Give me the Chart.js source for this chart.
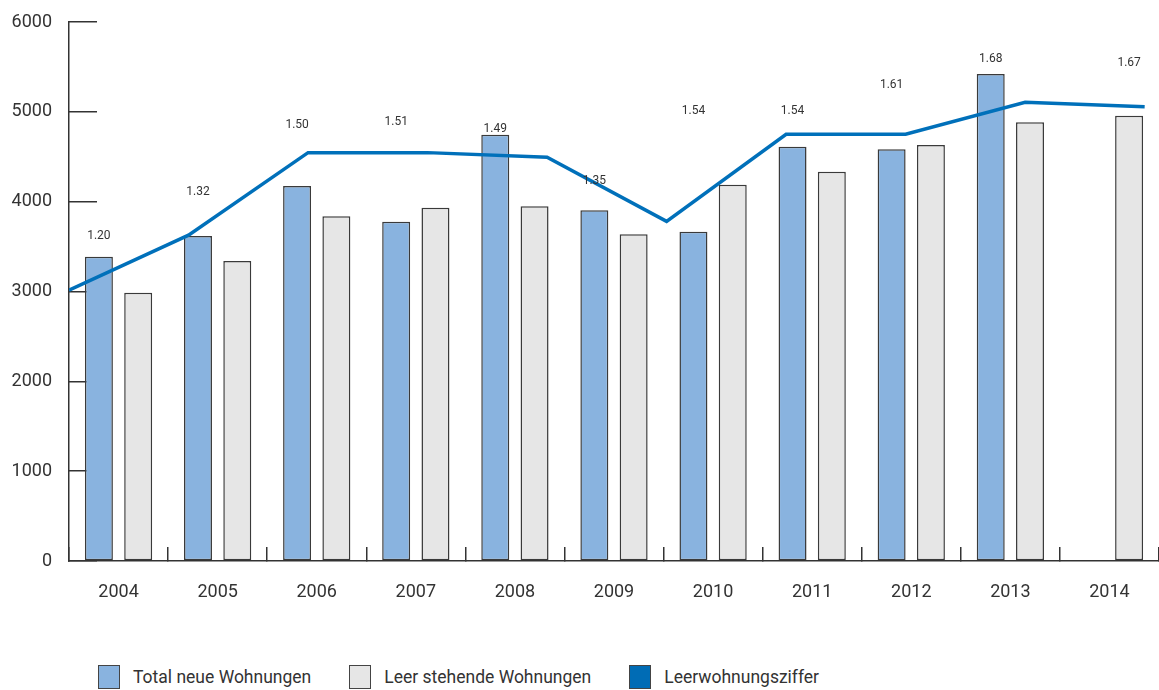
<!DOCTYPE html>
<html lang="de">
<head>
<meta charset="utf-8">
<title>Neue und leer stehende Wohnungen 2004–2014</title>
<script src="https://cdn.jsdelivr.net/npm/chart.js@4.4.1/dist/chart.umd.min.js"></script>
<style>
  body { margin: 0; background: #fff; font-family: Roboto, sans-serif; }
  #wrap { position: relative; width: 1159px; height: 690px; }
  #chart { display: block; }
  #legende { position: absolute; left: 98px; top: 665px; display: flex; gap: 38px; font-size: 17.5px; color: #333; }
  .item { display: flex; align-items: center; }
  .box { width: 22px; height: 24px; border: 1px solid #444; box-sizing: border-box; margin-right: 13px; }
</style>
</head>
<body>
<div id="wrap">
  <canvas id="chart" width="1159" height="640"></canvas>
  <div id="legende"></div>
</div>
<script>
const jahre = ['2004', '2005', '2006', '2007', '2008', '2009', '2010', '2011', '2012', '2013', '2014'];
const neueWohnungen = [3388, 3618, 4175, 3777, 4746, 3904, 3666, 4612, 4583, 5421, null];
const leerWohnungen = [2987, 3340, 3837, 3933, 3949, 3637, 4189, 4334, 4631, 4884, 4957];
// Beschriftung der Leerwohnungsziffer pro Jahr
const ziffer = [1.20, 1.32, 1.50, 1.51, 1.49, 1.35, 1.54, 1.54, 1.61, 1.68, 1.67];
// Verlauf der Linie, wie sie im Bild gezeichnet ist (10 Stützpunkte)
const zifferLinie = [1.20, 1.32, 1.50, 1.50, 1.49, 1.35, 1.54, 1.54, 1.61, 1.60];
const yTicks = [0, 1000, 2000, 3000, 4000, 5000, 6000];

const textFarbe = '#333';
const achsenFarbe = '#333';

// Chart.js 4.4 zählt die eigene x-Achse der Linie sonst als weitere Balkengruppe mit
if (Chart.BarController.prototype._getAxisCount) {
    Chart.BarController.prototype._getAxisCount = function () { return 1; };
}

// Werte der Ziffer über den Balken schreiben
const zifferLabels = {
    id: 'zifferLabels',
    afterDatasetsDraw(chart) {
        const c = chart.ctx;
        const y3 = chart.scales.y3;
        c.save();
        c.font = '12px Roboto, sans-serif';
        c.fillStyle = textFarbe;
        c.textAlign = 'center';
        c.textBaseline = 'middle';
        ziffer.forEach((wert, i) => {
            const meta = neueWohnungen[i] != null ? chart.getDatasetMeta(0) : chart.getDatasetMeta(1);
            const bar = meta.data[i];
            c.fillText(wert.toFixed(2), bar.x, y3.getPixelForValue(wert));
        });
        c.restore();
    }
};

const ctx = document.getElementById('chart').getContext('2d');
const chart = new Chart(ctx, {
    type: 'bar',
    data: {
        labels: jahre,
        datasets: [{
            label: 'Total neue Wohnungen',
            data: neueWohnungen,
            backgroundColor: '#89b3df',
            borderColor: '#3a3a3a',
            borderWidth: 1.5,
            borderSkipped: false,
            categoryPercentage: 0.793,
            barPercentage: 0.712,
            order: 1
        },
        {
            label: 'Leer stehende Wohnungen',
            data: leerWohnungen,
            backgroundColor: '#e6e6e6',
            borderColor: '#3a3a3a',
            borderWidth: 1.5,
            borderSkipped: false,
            categoryPercentage: 0.793,
            barPercentage: 0.712,
            order: 2
        },
        {
            type: 'line',
            label: 'Leerwohnungsziffer',
            data: zifferLinie.map((v, i) => ({ x: i, y: v })),
            xAxisID: 'x2',
            yAxisID: 'y2',
            borderColor: '#0070ba',
            backgroundColor: '#006cb5',
            borderWidth: 3.5,
            pointRadius: 0,
            tension: 0,
            order: 0
        }]
    },
    options: {
        responsive: false,
        animation: false,
        layout: { padding: { top: 22, right: 0, bottom: 0, left: 0 } },
        plugins: {
            legend: { display: false },
            tooltip: { enabled: false }
        },
        scales: {
            x: {
                offset: true,
                grid: { offset: true, drawOnChartArea: false, tickLength: -14, color: achsenFarbe, lineWidth: 1.5 },
                border: { color: achsenFarbe, width: 1.5 },
                ticks: { padding: 35, color: textFarbe, font: { family: 'Roboto', size: 18 } },
                afterFit: (scale) => {
                    scale.height = 79;
                    scale.paddingLeft = 0;
                    scale.paddingRight = 0;
                }
            },
            y: {
                min: 0,
                max: 6000,
                afterBuildTicks: (scale) => { scale.ticks = yTicks.map(v => ({ value: v })); },
                grid: { drawOnChartArea: false, tickLength: -28, color: achsenFarbe, lineWidth: 1.5 },
                border: { color: achsenFarbe, width: 1.5 },
                ticks: {
                    padding: 45,
                    color: textFarbe,
                    font: { family: 'Roboto', size: 18 },
                    callback: (value) => String(value)
                },
                afterFit: (scale) => {
                    scale.width = 69;
                    scale.paddingTop = 0;
                    scale.paddingBottom = 0;
                }
            },
            x2: { type: 'linear', display: false, offset: false, min: 0, max: 9.12 },
            y2: { type: 'linear', display: false, min: 0.609, max: 1.785 },
            y3: { type: 'linear', display: false, min: 0.32, max: 1.78 }
        }
    },
    plugins: [zifferLabels]
});

// Legende als HTML unter dem Diagramm
const legende = document.getElementById('legende');
chart.data.datasets.forEach(ds => {
    const item = document.createElement('div');
    item.className = 'item';
    const box = document.createElement('span');
    box.className = 'box';
    box.style.background = ds.backgroundColor;
    const text = document.createElement('span');
    text.textContent = ds.label;
    item.appendChild(box);
    item.appendChild(text);
    legende.appendChild(item);
});
</script>
</body>
</html>
